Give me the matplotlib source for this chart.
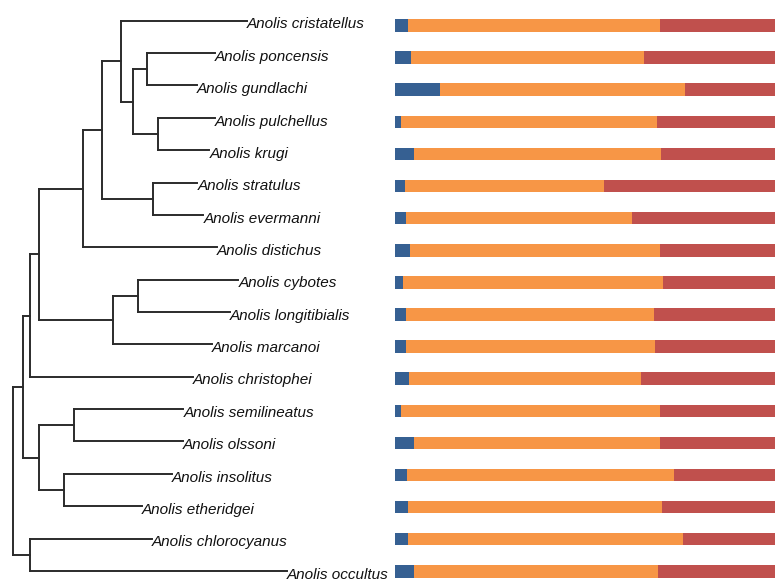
import matplotlib
matplotlib.use("Agg")
import matplotlib.pyplot as plt
from matplotlib import font_manager
from matplotlib.collections import LineCollection

genus = "Anolis"

# Tip order, top to bottom
species = [
    "cristatellus", "poncensis", "gundlachi", "pulchellus", "krugi",
    "stratulus", "evermanni", "distichus", "cybotes", "longitibialis",
    "marcanoi", "christophei", "semilineatus", "olssoni", "insolitus",
    "etheridgei", "chlorocyanus", "occultus",
]

# Phylogeny with branch lengths
newick = (
    "(((((((cristatellus:126,((poncensis:68.3,gundlachi:50):14,"
    "(pulchellus:56.7,krugi:51):25.6):12):18.4,(stratulus:44,evermanni:50):51):19.6,"
    "distichus:134):43.4,((cybotes:100,longitibialis:91.7):25.6,marcanoi:99):73.4):9.3,"
    "christophei:162.7):7.3,((semilineatus:109.3,olssoni:108.7):34.7,"
    "(insolitus:107.7,etheridgei:77.7):24.7):16.6):10,"
    "(chlorocyanus:121.7,occultus:256.7):17.3);"
)

# Proportions (%) per species
blue = [3.4, 4.1, 11.8, 1.6, 4.9, 2.7, 3.0, 3.9, 2.2, 2.9, 3.0, 3.8, 1.6, 4.9, 3.2, 3.4, 3.3, 4.9]
orange = [66.3, 61.3, 64.4, 67.4, 65.1, 52.2, 59.4, 65.8, 68.2, 65.3, 65.5, 60.9, 68.1, 64.8, 70.1, 66.9, 72.4, 64.2]
red = [30.3, 34.6, 23.8, 31.0, 30.0, 45.1, 37.6, 30.3, 29.6, 31.8, 31.5, 35.3, 30.3, 30.3, 26.7, 29.7, 24.3, 30.9]

colors = ["#366092", "#F79646", "#C0504D"]


def parse_newick(s):
    pos = 0

    def node():
        nonlocal pos
        children = []
        if s[pos] == "(":
            pos += 1
            children.append(node())
            while s[pos] == ",":
                pos += 1
                children.append(node())
            pos += 1
        start = pos
        while s[pos] not in ":,);":
            pos += 1
        name = s[start:pos]
        length = 0.0
        if s[pos] == ":":
            pos += 1
            start = pos
            while s[pos] not in ",);":
                pos += 1
            length = float(s[start:pos])
        return {"name": name, "len": length, "children": children}

    return node()


tree = parse_newick(newick)
tip_index = {name: i for i, name in enumerate(species)}
segments = []
tips = []


def layout(nd, parent_x):
    x = parent_x + nd["len"]
    if not nd["children"]:
        y = tip_index[nd["name"]]
        tips.append((x, y, nd["name"]))
    else:
        ys = [layout(c, x) for c in nd["children"]]
        segments.append([(x, ys[0]), (x, ys[-1])])
        for c, cy in zip(nd["children"], ys):
            segments.append([(x, cy), (x + c["len"], cy)])
        y = (ys[0] + ys[-1]) / 2.0
    return y


layout(tree, 0.0)

# Prefer a narrow sans for the tip labels when one is installed
installed = {f.name for f in font_manager.fontManager.ttflist}
if "Liberation Sans Narrow" in installed:
    label_font, label_size = ["Liberation Sans Narrow", "DejaVu Sans"], 13.4
else:
    label_font, label_size = ["Liberation Sans", "DejaVu Sans"], 11.0

fig = plt.figure(figsize=(7.75, 5.8), dpi=100)
fig.patch.set_facecolor("white")

# Tree panel
ax_t = fig.add_axes([0, 0, 390 / 775, 1])
ax_t.add_collection(LineCollection(segments, colors="#2b2b2b", linewidths=1.4,
                                   capstyle="projecting"))
for x, y, name in tips:
    ax_t.annotate(f"{genus} {name}", xy=(x, y), xytext=(0, -2.7),
                  textcoords="offset points", ha="left", va="center",
                  fontsize=label_size, style="italic", family=label_font,
                  color="#111111", annotation_clip=False)
ax_t.set_xlim(-12.7, 377.3)
ax_t.set_ylim(17.28, -0.64)
ax_t.axis("off")

# Stacked proportion bars
ax_b = fig.add_axes([395 / 775, 0, 380 / 775, 1])
left = [0.0] * len(species)
for vals, col in zip([blue, orange, red], colors):
    ax_b.barh(range(len(species)), vals, left=left, height=0.39, color=col,
              edgecolor="none")
    left = [l + v for l, v in zip(left, vals)]
ax_b.set_xlim(0, 100)
ax_b.set_ylim(17.27, -0.794)
ax_b.axis("off")

fig.savefig("out.png", dpi=100, facecolor="white")
